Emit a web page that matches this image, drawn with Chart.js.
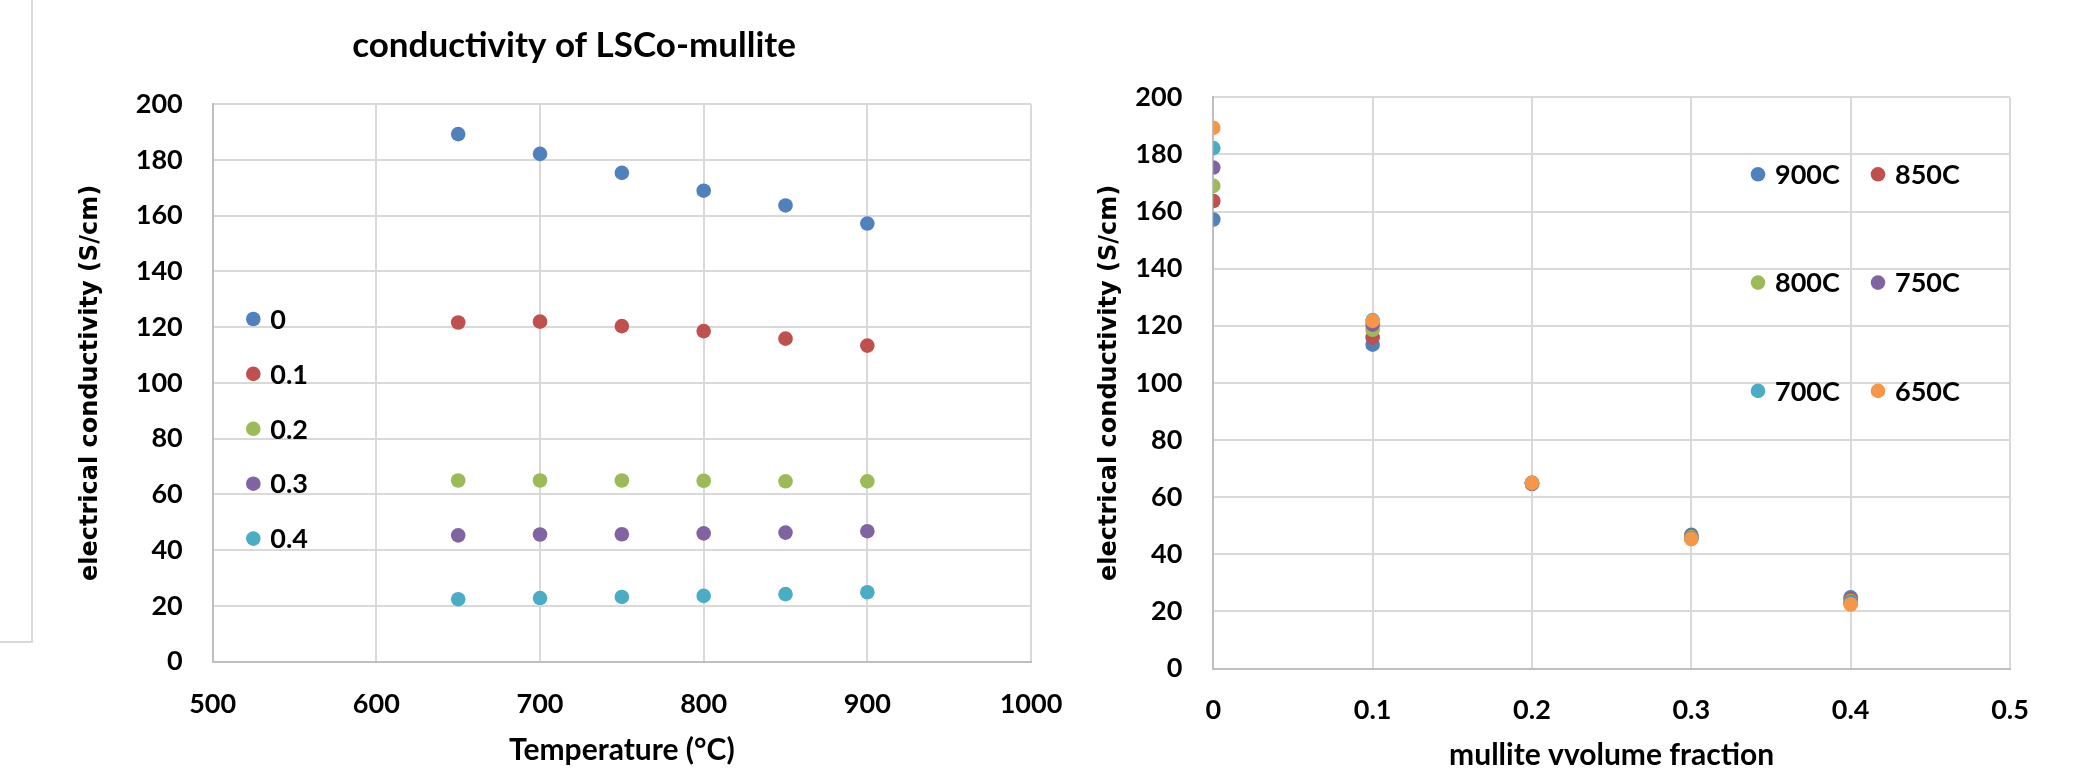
<!DOCTYPE html>
<html>
<head>
<meta charset="utf-8">
<script src="https://cdn.jsdelivr.net/npm/chart.js@4.4.0/dist/chart.umd.min.js"></script>
<style>
  body { margin: 0; background: #fff; width: 2082px; height: 773px; position: relative; overflow: hidden; }
  #frame { position: absolute; left: 0; top: 0; width: 31px; height: 641px; border-right: 2px solid #d9d9d9; border-bottom: 2px solid #d9d9d9; }
  #leftBox { position: absolute; left: 48px; top: 0; width: 1052px; height: 773px; }
  #rightBox { position: absolute; left: 1070px; top: 0; width: 1012px; height: 773px; }
</style>
</head>
<body>
<div id="frame"></div>
<div id="leftBox"><canvas id="tempChart" width="1052" height="773"></canvas></div>
<div id="rightBox"><canvas id="fractionChart" width="1012" height="773"></canvas></div>
<script>
// values
const temperatures = [650, 700, 750, 800, 850, 900];
const fractionValues = [0, 0.1, 0.2, 0.3, 0.4];
const fractionLabels = ['0', '0.1', '0.2', '0.3', '0.4'];
const cond00 = [189.3, 182.2, 175.4, 169.0, 163.7, 157.2];
const cond01 = [121.7, 122.0, 120.4, 118.6, 115.9, 113.4];
const cond02 = [65.0, 65.0, 65.0, 64.9, 64.7, 64.7];
const cond03 = [45.3, 45.6, 45.7, 46.0, 46.3, 46.8];
const cond04 = [22.4, 22.8, 23.2, 23.6, 24.2, 24.9];
const tempOrder = [900, 850, 800, 750, 700, 650];
const tempLabels = ['900C', '850C', '800C', '750C', '700C', '650C'];

const fractionColors = ['#4F81BD', '#C0504D', '#9BBB59', '#8064A2', '#4BACC6'];
const tempColors = ['#4F81BD', '#C0504D', '#9BBB59', '#8064A2', '#4BACC6', '#F79646'];

const bySeries = [cond00, cond01, cond02, cond03, cond04];
const labelFont = { family: 'Lato, "Open Sans", sans-serif', size: 27, weight: 'bold' };
const xTitleFont = { family: 'Lato, "Open Sans", sans-serif', size: 30, weight: 'bold' };
const axisTitleFont = { family: '"DejaVu Sans", Verdana, sans-serif', size: 24, weight: 'bold' };

// legend drawn inside the plot area, like the Excel one
const insideLegend = {
    id: 'insideLegend',
    afterDatasetsDraw(chart, args, opts) {
        const ctx = chart.ctx;
        const area = chart.chartArea;
        ctx.save();
        ctx.font = 'bold 27px Lato, "Open Sans", sans-serif';
        ctx.textBaseline = 'middle';
        chart.data.datasets.forEach((ds, i) => {
            const col = i % opts.cols;
            const row = Math.floor(i / opts.cols);
            const x = area.left + opts.x + col * opts.colGap;
            const y = area.top + opts.y + row * opts.rowGap;
            ctx.beginPath();
            ctx.arc(x, y, 7.3, 0, Math.PI * 2);
            ctx.fillStyle = ds.backgroundColor;
            ctx.fill();
            ctx.fillStyle = '#000';
            ctx.fillText(ds.label, x + 17, y + 1);
        });
        ctx.restore();
    }
};

function gridOpts() {
    return { color: '#d9d9d9', lineWidth: 2, drawTicks: false };
}

// left chart: conductivity vs temperature, one series per mullite fraction
const leftSets = bySeries.map((vals, i) => ({
    label: fractionLabels[i],
    data: temperatures.map((t, j) => ({ x: t, y: vals[j] })),
    backgroundColor: fractionColors[i],
    borderWidth: 0,
    pointRadius: 7.3,
    pointHoverRadius: 7.3
}));

new Chart(document.getElementById('tempChart').getContext('2d'), {
    type: 'scatter',
    data: { datasets: leftSets },
    plugins: [insideLegend],
    options: {
        responsive: false,
        animation: false,
        layout: { padding: 0 },
        plugins: {
            legend: { display: false },
            tooltip: { enabled: false },
            title: {
                display: true,
                text: 'conductivity of LSCo-mullite',
                color: '#000',
                font: { family: 'Lato, "Open Sans", sans-serif', size: 35, weight: 'bold' },
                padding: { top: 25, bottom: 37.3 }
            },
            insideLegend: { x: 40.6, y: 214.7, rowGap: 54.9, colGap: 0, cols: 1 }
        },
        scales: {
            x: {
                type: 'linear',
                min: 500, max: 1000,
                ticks: { stepSize: 100, color: '#000', font: labelFont, padding: 26, callback: v => String(v) },
                grid: gridOpts(),
                border: { color: '#bfbfbf', width: 2 },
                title: { display: true, text: 'Temperature (°C)', color: '#000', font: xTitleFont, padding: { top: 0, bottom: 5 } },
                afterFit(scale) { scale.height = 111.4; }
            },
            y: {
                min: 0, max: 200,
                ticks: { stepSize: 20, color: '#000', font: labelFont, padding: 30 },
                grid: gridOpts(),
                border: { color: '#bfbfbf', width: 2 },
                title: { display: true, text: 'electrical conductivity (S/cm)', color: '#000', font: axisTitleFont, padding: { top: 28.4, bottom: 0 } },
                afterFit(scale) { scale.width = 164.7; }
            },
            // empty right-hand strip so the chart title centres on the whole chart object
            yRight: {
                position: 'right',
                display: true,
                min: 0, max: 200,
                ticks: { display: false },
                grid: { display: false },
                border: { display: false },
                afterFit(scale) { scale.width = 69; }
            }
        }
    }
});

// right chart: conductivity vs mullite fraction, one series per temperature
const rightSets = tempOrder.map((t, k) => {
    const j = temperatures.indexOf(t);
    return {
        label: tempLabels[k],
        data: fractionValues.map((f, i) => ({ x: f, y: bySeries[i][j] })),
        backgroundColor: tempColors[k],
        borderWidth: 0,
        pointRadius: 7.3,
        pointHoverRadius: 7.3,
        order: tempOrder.length - k
    };
});

new Chart(document.getElementById('fractionChart').getContext('2d'), {
    type: 'scatter',
    data: { datasets: rightSets },
    plugins: [insideLegend],
    options: {
        responsive: false,
        animation: false,
        layout: { padding: { left: 0, right: 72, top: 97.3, bottom: 0 } },
        plugins: {
            legend: { display: false },
            tooltip: { enabled: false },
            insideLegend: { x: 544.7, y: 77, rowGap: 108.3, colGap: 120, cols: 2 }
        },
        scales: {
            x: {
                type: 'linear',
                min: 0, max: 0.5,
                ticks: { stepSize: 0.1, color: '#000', font: labelFont, padding: 26 },
                grid: gridOpts(),
                border: { color: '#bfbfbf', width: 2 },
                title: { display: true, text: 'mullite vvolume fraction', color: '#000', font: xTitleFont, padding: { top: 0, bottom: 0 } },
                afterFit(scale) { scale.height = 104.5; }
            },
            y: {
                min: 0, max: 200,
                ticks: { stepSize: 20, color: '#000', font: labelFont, padding: 31 },
                grid: gridOpts(),
                border: { color: '#bfbfbf', width: 2 },
                title: { display: true, text: 'electrical conductivity (S/cm)', color: '#000', font: axisTitleFont, padding: { top: 25.6, bottom: 0 } },
                afterFit(scale) { scale.width = 143.3; }
            }
        }
    }
});
</script>
</body>
</html>
